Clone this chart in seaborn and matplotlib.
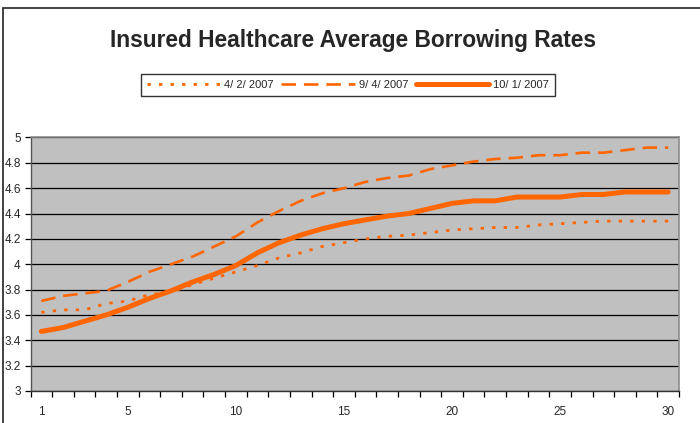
import pandas as pd
import matplotlib.pyplot as plt
import seaborn as sns
from matplotlib.patches import Rectangle
from matplotlib.ticker import FixedLocator

# Datos (plazo 1..30)
plazos = list(range(1, 31))
tasa_abr = [3.62, 3.64, 3.64, 3.69, 3.71, 3.76, 3.78, 3.84, 3.89, 3.94,
            3.99, 4.05, 4.09, 4.14, 4.17, 4.20, 4.22, 4.23, 4.25, 4.27,
            4.28, 4.29, 4.29, 4.31, 4.32, 4.33, 4.34, 4.34, 4.34, 4.34]
tasa_sep = [3.71, 3.75, 3.77, 3.79, 3.86, 3.94, 4.00, 4.06, 4.14, 4.22,
            4.33, 4.42, 4.50, 4.56, 4.60, 4.65, 4.68, 4.70, 4.75, 4.78,
            4.81, 4.83, 4.84, 4.86, 4.86, 4.88, 4.88, 4.90, 4.92, 4.92]
tasa_oct = [3.47, 3.50, 3.55, 3.60, 3.66, 3.73, 3.79, 3.86, 3.92, 3.99,
            4.09, 4.17, 4.23, 4.28, 4.32, 4.35, 4.38, 4.40, 4.44, 4.48,
            4.50, 4.50, 4.53, 4.53, 4.53, 4.55, 4.55, 4.57, 4.57, 4.57]
fechas = ['4/ 2/ 2007', '9/ 4/ 2007', '10/ 1/ 2007']
etiquetas_x = [1, 5, 10, 15, 20, 25, 30]

df = pd.DataFrame({'Plazo': plazos, fechas[0]: tasa_abr,
                   fechas[1]: tasa_sep, fechas[2]: tasa_oct})

sns.set_style('white')
plt.rcParams['font.family'] = ['Liberation Sans', 'DejaVu Sans']

naranja = '#FF6600'
estilos = {
    fechas[0]: dict(linewidth=2.0, dashes=(1.2, 2.95)),
    fechas[1]: dict(linewidth=1.9, dashes=(5.5, 3.0)),
    fechas[2]: dict(linewidth=3.6, dashes=()),
}

fig = plt.figure(figsize=(7, 4.23), dpi=100)
ax = fig.add_axes([0.0436, 0.0757, 0.9264, 0.5993])
ax.set_facecolor('#C0C0C0')

lineas = []
for f in fechas:
    sns.lineplot(data=df, x='Plazo', y=f, ax=ax, color=naranja,
                 linewidth=estilos[f]['linewidth'], label=f, legend=False)
    ln = ax.lines[-1]
    if estilos[f]['dashes']:
        ln.set_dashes(estilos[f]['dashes'])
        ln.set_dash_capstyle('butt')
    else:
        ln.set_solid_capstyle('round')
    lineas.append(ln)

ax.set_xlim(0.5, 30.5)
ax.set_ylim(3, 5)
ax.set_xlabel('')
ax.set_ylabel('')

ax.set_yticks([3 + 0.2 * i for i in range(11)])
ax.set_yticklabels(['3', '3.2', '3.4', '3.6', '3.8', '4', '4.2', '4.4', '4.6', '4.8', '5'])
ax.yaxis.grid(True, color='black', linewidth=0.9)
ax.set_axisbelow(True)

ax.set_xticks(etiquetas_x)
ax.set_xticklabels([str(v) for v in etiquetas_x])
ax.xaxis.set_minor_locator(FixedLocator([0.5 + i for i in range(31)]))
ax.tick_params(axis='x', which='major', length=0, pad=11, labelsize=8.5)
ax.tick_params(axis='x', which='minor', length=4, width=0.9, color='black', bottom=True)
ax.tick_params(axis='y', length=4, width=0.9, color='black', pad=3, labelsize=8.5, left=True)

for lado in ['top', 'right']:
    ax.spines[lado].set_color('#8C8C8C')
    ax.spines[lado].set_linewidth(1.2)
ax.spines['left'].set_color('#555555')
ax.spines['bottom'].set_color('#333333')
ax.spines['left'].set_linewidth(1.0)
ax.spines['bottom'].set_linewidth(1.0)

fig.text(0.504, 1 - 46.5 / 423, 'Insured Healthcare Average Borrowing Rates',
         ha='center', va='baseline', fontsize=16.4, fontweight='bold')

leg = fig.legend(handles=lineas, labels=fechas, loc='center',
                 bbox_to_anchor=(0.497, 1 - 85 / 423), ncol=3, fontsize=8,
                 handlelength=6.6, handletextpad=0.35, columnspacing=0.7,
                 borderpad=0.55, frameon=True, fancybox=False)
leg.get_frame().set_edgecolor('black')
leg.get_frame().set_linewidth(1.0)

# Marco del área del gráfico
fig.patches.append(Rectangle((2.5 / 700, -0.05), 1.2, 1 - 8.5 / 423 + 0.05,
                             transform=fig.transFigure, fill=False,
                             edgecolor='#222222', linewidth=1.2))

fig.savefig('out.png', dpi=100)
